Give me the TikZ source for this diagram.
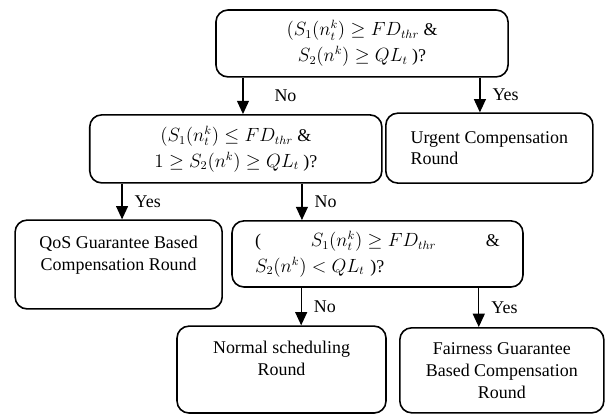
\documentclass[tikz,border=0pt]{standalone}
\usepackage{fontspec}
\setmainfont{Liberation Serif}
\usetikzlibrary{arrows.meta}

\begin{document}
\begin{tikzpicture}[>={Triangle[length=10pt,width=9pt]},
    font=\fontsize{13.5}{16.5}\selectfont,
    box/.style={draw=black, line width=1.2pt, rounded corners=9pt, align=center},
    arr/.style={->, line width=1pt},
    lbl/.style={right, xshift=0.2cm}]
    \useasboundingbox (0,0) rectangle (16.01,-10.95);
    % uslovi
    \node (cond1) [box, minimum width=7.73cm, minimum height=1.77cm] at (9.58,-1.15) {$(S_1(n_t^k) \geq FD_{thr}$ \&\\[3pt] $S_2(n^k) \geq QL_t$ )?};
    \node (cond2) [box, minimum width=7.73cm, minimum height=1.80cm] at (6.24,-3.94) {$(S_1(n_t^k) \leq FD_{thr}$ \&\\[3pt] $1 \geq S_2(n^k) \geq QL_t$ )?};
    \node (cond3) [box, align=left, text width=6.48cm, minimum width=7.70cm, minimum height=1.75cm] at (9.99,-6.72) {(\hfill$S_1(n_t^k) \geq FD_{thr}$\hfill\&\\[3pt] $S_2(n^k) < QL_t$ )?};
    % rundovi
    \node (urgent) [box, align=left, minimum width=5.48cm, minimum height=1.85cm] at (12.95,-3.92) {Urgent Compensation\\ Round};
    \node (qos)    [box, minimum width=5.48cm, minimum height=2.35cm] at (3.14,-7.00) {QoS Guarantee Based\\ Compensation Round\\ \mbox{}};
    \node (normal) [box, minimum width=5.53cm, minimum height=2.30cm] at (7.45,-9.78) {Normal scheduling\\ Round\\ \mbox{}};
    \node (fair)   [box, minimum width=5.40cm, minimum height=2.25cm] at (13.28,-9.80) {Fairness Guarantee\\ Based Compensation\\ Round};
    % grane prvog uslova
    \draw [arr] ([xshift=0.19cm]cond2.north |- cond1.south) -- node[lbl, xshift=0.5cm] {No} ([xshift=0.19cm]cond2.north);
    \draw [arr] ([xshift=-0.25cm]urgent.north |- cond1.south) -- node[lbl] {Yes} ([xshift=-0.25cm]urgent.north);
    % grane drugog uslova
    \draw [arr] ([xshift=0.09cm]qos.north |- cond2.south) -- node[lbl] {Yes} ([xshift=0.09cm]qos.north);
    \draw [arr] ([xshift=-2cm]cond3.north |- cond2.south) -- node[lbl] {No} ([xshift=-2cm]cond3.north);
    % grane treceg uslova
    \draw [arr] ([xshift=0.52cm]normal.north |- cond3.south) -- node[lbl] {No} ([xshift=0.52cm]normal.north);
    \draw [arr] ([xshift=-0.61cm]fair.north |- cond3.south) -- node[lbl] {Yes} ([xshift=-0.61cm]fair.north);
\end{tikzpicture}
\end{document}
